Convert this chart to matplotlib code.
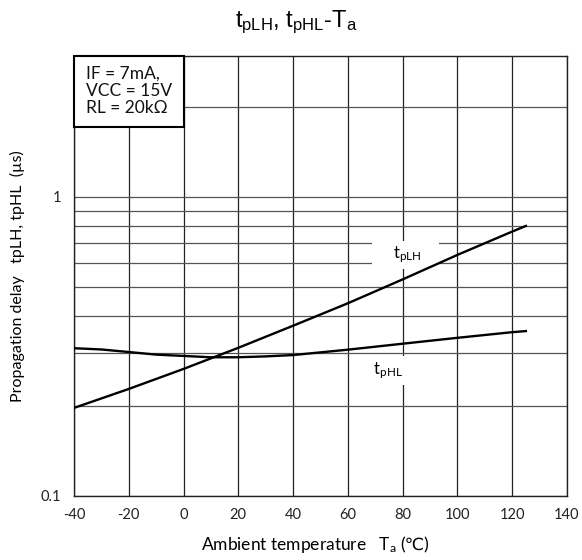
import matplotlib
matplotlib.use("Agg")
import matplotlib.pyplot as plt
from matplotlib.patches import Rectangle
from matplotlib.ticker import FixedLocator, NullFormatter

# data
temp_plh = [-40, -20, 0, 20, 40, 60, 80, 100, 120, 125]
tplh = [0.197, 0.228, 0.266, 0.313, 0.371, 0.441, 0.530, 0.640, 0.766, 0.80]

temp_phl = [-40, -30, -20, -10, 0, 10, 20, 30, 40, 60, 80, 100, 120, 125]
tphl = [0.312, 0.309, 0.303, 0.297, 0.294, 0.291, 0.291, 0.293, 0.296, 0.3085, 0.323, 0.338, 0.353, 0.356]

x_ticks = [-40, -20, 0, 20, 40, 60, 80, 100, 120, 140]
y_major = [0.1, 1]
y_minor = [0.2, 0.3, 0.4, 0.5, 0.6, 0.7, 0.8, 0.9, 2, 3]

cond_text = "IF = 7mA,\nVCC = 15V\nRL = 20kΩ"

FONT = ["Lato", "DejaVu Sans"]
plt.rcParams["font.family"] = FONT
plt.rcParams["mathtext.default"] = "regular"


def main():
    fig = plt.figure(figsize=(5.82, 5.6), dpi=100)
    ax = fig.add_axes([0.1271, 0.1143, 0.8471, 0.7857])

    ax.set_yscale("log")
    ax.set_xlim(-40, 140)
    ax.set_ylim(0.1, 2.96)

    ax.set_xticks(x_ticks)
    ax.set_xticklabels([str(t) for t in x_ticks])
    ax.yaxis.set_major_locator(FixedLocator(y_major))
    ax.set_yticklabels(["0.1", "1"])
    ax.yaxis.set_minor_locator(FixedLocator(y_minor))
    ax.yaxis.set_minor_formatter(NullFormatter())
    ax.tick_params(which="both", length=0, labelsize=10.5, colors="#222222", pad=9)

    ax.grid(True, which="major", axis="x", color="#222222", lw=0.9)
    ax.grid(True, which="both", axis="y", color="#555555", lw=0.9)
    for s in ax.spines.values():
        s.set_color("#222222")
        s.set_linewidth(1.0)

    ax.plot(temp_plh, tplh, color="black", lw=1.7, zorder=3)
    ax.plot(temp_phl, tphl, color="black", lw=1.7, zorder=3)

    # curve labels on white patches (above grid, below curves)
    ax.text(81, 0.64, "    t$_{pLH}$    ", fontsize=12, ha="center", va="center", zorder=2,
            bbox=dict(facecolor="white", edgecolor="none", pad=2.5))
    ax.text(74, 0.262, "  t$_{pHL}$  ", fontsize=12, ha="center", va="center", zorder=2,
            bbox=dict(facecolor="white", edgecolor="none", pad=3))

    # conditions box at top-left
    ax.add_patch(Rectangle((0, 1 - 0.161), 0.223, 0.161, transform=ax.transAxes,
                           facecolor="white", edgecolor="black", lw=1.5, zorder=5,
                           clip_on=False))
    ax.text(0.024, 1 - 0.08, cond_text, transform=ax.transAxes, fontsize=12.5,
            ha="left", va="center", linespacing=1.1, zorder=6, color="#111111")

    ax.set_xlabel("Ambient temperature   T$_a$", fontsize=12.5, va="center", ha="left")
    ax.xaxis.set_label_coords((201 - 74) / 493, -0.111)
    ax.set_ylabel("Propagation delay   tpLH, tpHL  (µs)", fontsize=11.5, va="center")
    ax.yaxis.set_label_coords(-0.1136, 0.5)

    # the degree sign is not in the mathtext font, so it goes in its own text
    fig.canvas.draw()
    bb = ax.xaxis.label.get_window_extent()
    W, H = fig.get_size_inches() * fig.dpi
    fig.text(bb.x1 / W + 0.006, 1 - 545 / 560, "(℃)", fontsize=12.5,
             ha="left", va="center", family=FONT)

    fig.text(0.5086, 0.9607, r"t$_{pLH}$, t$_{pHL}$-T$_a$", ha="center", va="center",
             fontsize=17, family=["Liberation Sans", "DejaVu Sans"])

    fig.savefig("out.png", dpi=100)


if __name__ == "__main__":
    main()
